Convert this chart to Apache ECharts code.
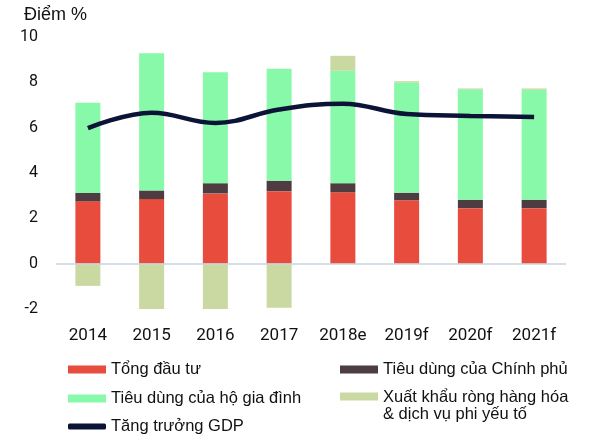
<!DOCTYPE html>
<html>
<head>
<meta charset="utf-8">
<script src="https://cdn.jsdelivr.net/npm/echarts@6/dist/echarts.min.js"></script>
<style>
  html, body { margin: 0; padding: 0; background: #fff; }
  #main { width: 600px; height: 443px; }
</style>
</head>
<body>
<div id="main"></div>
<script>
var years = ['2014', '2015', '2016', '2017', '2018e', '2019f', '2020f', '2021f'];
var tongDauTu = [2.75, 2.85, 3.1, 3.2, 3.15, 2.8, 2.45, 2.45];
var chinhPhu = [0.37, 0.38, 0.45, 0.46, 0.4, 0.33, 0.37, 0.37];
var hoGiaDinh = [3.98, 6.05, 4.9, 4.94, 4.96, 4.86, 4.87, 4.85];
var xuatKhau = [-0.98, -2.1, -2.1, -1.95, 0.66, 0.06, 0.04, 0.06];
var gdp = [5.98, 6.66, 6.21, 6.8, 7.06, 6.6, 6.52, 6.47];

var NAMES = ['Tổng đầu tư', 'Tiêu dùng của Chính phủ', 'Tiêu dùng của hộ gia đình',
  'Xuất khẩu ròng hàng hóa', 'Tăng trưởng GDP'];
var COLORS = ['#e84c3d', '#4d3d42', '#88f9a8', '#cad9a2', '#0b1437'];

var chart = echarts.init(document.getElementById('main'));

var font = 'Roboto, Arial, sans-serif';
var legendFont = '"Liberation Sans", Arial, sans-serif';
var legendText = { fontFamily: legendFont, fontSize: 16.5, color: '#111' };

function leg(name, left, top, extra) {
  var o = {
    data: [name],
    left: left,
    top: top,
    padding: 0,
    itemWidth: 38,
    itemHeight: 8,
    icon: 'rect',
    selectedMode: false,
    textStyle: legendText
  };
  return Object.assign(o, extra || {});
}

var option = {
  animation: false,
  title: {
    text: 'Điểm %',
    left: 24,
    top: 6,
    padding: 0,
    textStyle: { fontFamily: legendFont, fontSize: 18, fontWeight: 'normal', color: '#111' }
  },
  grid: { left: 56, right: 34, top: 37, bottom: 134 },
  legend: [
    leg(NAMES[0], 68, 361),
    leg(NAMES[2], 68, 390),
    leg(NAMES[4], 68, 418, { icon: 'roundRect', itemHeight: 6 }),
    leg(NAMES[1], 340, 361),
    leg(NAMES[3], 340, 388.5, {
      // keep the swatch level with the first line of a two-line label
      icon: 'path://M0,0H38V8H0Z M0,26H0.1',
      itemHeight: 26,
      formatter: function () { return 'Xuất khẩu ròng hàng hóa\n& dịch vụ phi yếu tố'; },
      textStyle: Object.assign({}, legendText, { lineHeight: 17 })
    })
  ],
  xAxis: {
    type: 'category',
    data: years,
    axisLine: { show: false },
    axisTick: { show: false },
    axisLabel: { margin: 18, fontFamily: font, fontSize: 17, color: '#111' }
  },
  yAxis: {
    type: 'value',
    min: -2,
    max: 10,
    interval: 2,
    axisLine: { show: false },
    axisTick: { show: false },
    splitLine: { show: false },
    axisLabel: { margin: 18, fontFamily: font, fontSize: 16, color: '#111' }
  },
  series: [
    {
      name: NAMES[0], type: 'bar', stack: 'gdp', barWidth: 25,
      itemStyle: { color: COLORS[0] }, data: tongDauTu,
      markLine: {
        silent: true, symbol: 'none', label: { show: false },
        lineStyle: { color: '#c9d3de', width: 1.5, type: 'solid' },
        data: [{ yAxis: 0 }]
      }
    },
    { name: NAMES[1], type: 'bar', stack: 'gdp', barWidth: 25, itemStyle: { color: COLORS[1] }, data: chinhPhu },
    { name: NAMES[2], type: 'bar', stack: 'gdp', barWidth: 25, itemStyle: { color: COLORS[2] }, data: hoGiaDinh },
    { name: NAMES[3], type: 'bar', stack: 'gdp', barWidth: 25, itemStyle: { color: COLORS[3] }, data: xuatKhau },
    {
      name: NAMES[4], type: 'line', smooth: 0.4, symbol: 'none', z: 5,
      lineStyle: { color: COLORS[4], width: 4.5 },
      itemStyle: { color: COLORS[4] },
      data: gdp
    }
  ]
};

chart.setOption(option);
</script>
</body>
</html>
